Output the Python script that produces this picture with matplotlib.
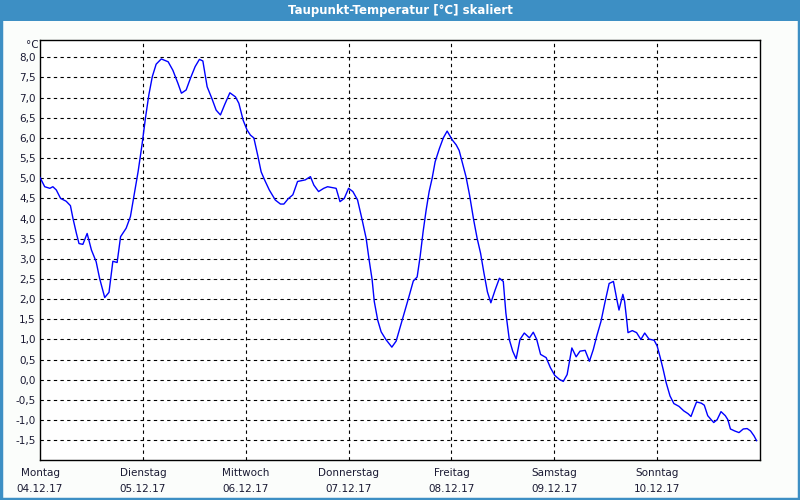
import matplotlib
matplotlib.use("Agg")
import matplotlib.pyplot as plt
from matplotlib.patches import Rectangle
from matplotlib.ticker import FixedLocator, FuncFormatter

title = "Taupunkt-Temperatur [°C] skaliert"
unit = "°C"
day_names = ["Montag", "Dienstag", "Mittwoch", "Donnerstag", "Freitag", "Samstag", "Sonntag"]
day_dates = ["04.12.17", "05.12.17", "06.12.17", "07.12.17", "08.12.17", "09.12.17", "10.12.17"]

# hours since Monday 00:00
hours = [0.0, 1.1, 2.3, 3.0, 3.8, 4.8, 6.1, 7.1, 7.7, 8.5, 9.1, 10.0, 11.0, 12.0, 13.1, 13.9,
         15.1, 16.1, 17.0, 18.0, 18.8, 20.1, 21.1, 22.1, 22.9, 23.8, 24.6, 25.4, 26.2, 27.1,
         28.3, 29.9, 31.0, 32.2, 33.0, 34.1, 35.1, 36.2, 37.2, 38.0, 39.0, 40.1, 41.1, 42.1,
         43.1, 44.3, 45.6, 46.4, 47.4, 48.3, 49.1, 49.9, 50.8, 51.6, 52.4, 53.5, 54.9, 56.1,
         56.9, 57.9, 59.0, 60.1, 61.9, 63.1, 63.9, 65.0, 66.2, 67.1, 69.1, 70.0, 71.0, 72.0,
         73.0, 74.1, 75.1, 76.1, 76.8, 77.5, 78.0, 78.8, 79.6, 80.7, 82.1, 83.1, 84.0, 85.0,
         86.0, 87.1, 88.0, 88.7, 89.4, 90.1, 90.8, 91.5, 92.2, 93.2, 94.1, 95.0, 96.2, 97.1,
         97.8, 98.6, 99.4, 100.2, 101.2, 102.0, 102.8, 103.6, 104.4, 105.2, 106.2, 107.2,
         108.1, 108.7, 109.5, 110.3, 111.1, 112.0, 113.0, 114.2, 115.1, 115.9, 116.8, 118.1,
         119.1, 120.1, 121.2, 122.1, 123.0, 124.1, 125.1, 126.0, 127.2, 128.2, 129.1, 129.9,
         130.9, 131.8, 132.8, 133.8, 134.6, 135.1, 136.0, 136.4, 136.9, 137.2, 138.2, 139.2,
         140.2, 141.1, 142.1, 143.3, 144.0, 144.7, 145.4, 146.1, 147.0, 147.9, 149.1, 150.2,
         151.2, 151.9, 152.6, 153.2, 154.3, 155.0, 155.8, 156.6, 157.2, 158.0, 158.9, 159.9,
         160.5, 161.1, 162.1, 163.1, 164.1, 165.0, 165.8, 166.6, 167.2]

dewpoint = [5.02, 4.79, 4.75, 4.79, 4.71, 4.50, 4.43, 4.32, 4.00, 3.63, 3.38, 3.36, 3.63, 3.22,
            2.93, 2.52, 2.04, 2.17, 2.94, 2.91, 3.55, 3.76, 4.05, 4.67, 5.17, 5.83, 6.49, 7.07,
            7.52, 7.83, 7.96, 7.89, 7.68, 7.35, 7.11, 7.19, 7.48, 7.77, 7.95, 7.91, 7.27, 6.98,
            6.69, 6.57, 6.83, 7.12, 7.02, 6.86, 6.44, 6.20, 6.07, 6.00, 5.57, 5.16, 4.96, 4.71,
            4.46, 4.36, 4.36, 4.49, 4.59, 4.92, 4.96, 5.04, 4.83, 4.67, 4.75, 4.79, 4.75, 4.42,
            4.50, 4.75, 4.67, 4.46, 4.00, 3.51, 2.97, 2.48, 1.94, 1.48, 1.19, 1.00, 0.81, 0.96,
            1.29, 1.66, 2.03, 2.45, 2.55, 3.06, 3.68, 4.21, 4.67, 5.00, 5.41, 5.74, 6.00, 6.17,
            5.95, 5.83, 5.69, 5.37, 5.04, 4.60, 3.96, 3.51, 3.14, 2.64, 2.18, 1.91, 2.23, 2.52,
            2.44, 1.66, 1.00, 0.71, 0.52, 1.00, 1.16, 1.04, 1.18, 1.00, 0.63, 0.55, 0.30, 0.11,
            0.01, -0.04, 0.13, 0.79, 0.57, 0.71, 0.73, 0.46, 0.75, 1.08, 1.45, 1.91, 2.39, 2.44,
            1.99, 1.73, 2.12, 1.95, 1.48, 1.17, 1.22, 1.17, 1.00, 1.16, 1.01, 0.98, 0.84, 0.56,
            0.26, -0.07, -0.40, -0.59, -0.66, -0.77, -0.84, -0.91, -0.71, -0.55, -0.58, -0.63,
            -0.89, -0.99, -1.06, -0.99, -0.79, -0.89, -0.99, -1.22, -1.27, -1.31, -1.22, -1.21,
            -1.27, -1.39, -1.51]

y_ticks = [-1.5, -1.0, -0.5, 0.0, 0.5, 1.0, 1.5, 2.0, 2.5, 3.0, 3.5, 4.0, 4.5, 5.0, 5.5,
           6.0, 6.5, 7.0, 7.5, 8.0]

blue_frame = "#3d8fc4"
text_col = "#1a1a33"

fig = plt.figure(figsize=(8, 5), dpi=100, facecolor="#fbfdfb")
# title bar
fig.patches.append(Rectangle((0, 0.959), 1, 0.041, transform=fig.transFigure,
                             facecolor=blue_frame, edgecolor="none", zorder=0))
fig.patches.append(Rectangle((0.001, 0.002), 0.998, 0.996, transform=fig.transFigure,
                             facecolor="none", edgecolor=blue_frame, linewidth=2.5, zorder=1))
fig.text(0.5, 0.979, title, color="white", ha="center", va="center", fontsize=8.5,
         fontweight="semibold")

ax = fig.add_axes([0.05, 0.08, 0.90, 0.84])
ax.set_facecolor("white")
ax.plot(hours, dewpoint, color="#0000ff", linewidth=1.0, zorder=3)

ax.set_xlim(0, 168)
ax.set_ylim(-1.99, 8.43)
ax.yaxis.set_major_locator(FixedLocator(y_ticks))
ax.yaxis.set_major_formatter(FuncFormatter(lambda v, p: f"{v:.1f}".replace(".", ",")))
ax.xaxis.set_major_locator(FixedLocator([24 * i for i in range(7)]))
ax.set_xticklabels([f"{n}\n\n{d}" for n, d in zip(day_names, day_dates)])
ax.tick_params(axis="y", length=0, pad=3, labelsize=7.5, labelcolor=text_col)
ax.tick_params(axis="x", length=0, pad=6, labelsize=7.5, labelcolor=text_col)
for lbl in ax.get_xticklabels():
    lbl.set_linespacing(0.75)

for v in y_ticks:
    ax.axhline(v, color="black", linestyle=(0, (3, 3)), linewidth=0.8, zorder=1)
for i in range(1, 7):
    ax.axvline(24 * i, color="black", linestyle=(0, (3, 3)), linewidth=0.8, zorder=1)

for s in ax.spines.values():
    s.set_color("black")
    s.set_linewidth(1.0)

fig.text(0.041, 0.911, unit, ha="center", va="center", fontsize=7.5, color=text_col)

fig.savefig("out.png", dpi=100, facecolor=fig.get_facecolor())
